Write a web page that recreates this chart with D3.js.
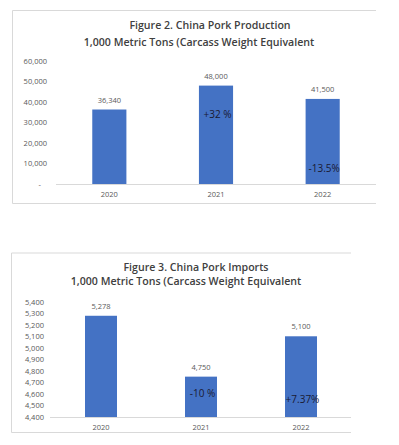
<!DOCTYPE html>
<html>
<head>
<meta charset="utf-8">
<script src="https://cdn.jsdelivr.net/npm/d3@7"></script>
<style>
  body { margin: 0; background: #fff; }
  text { font-family: "Open Sans", "Noto Sans", sans-serif; }
  .tick text { fill: #595959; font-size: 7.5px; }
  .title { font-weight: 600; fill: #404040; font-size: 10.6px; }
  .val { fill: #595959; font-size: 7.5px; }
  .pct { fill: #1a1a33; font-size: 10px; }
</style>
</head>
<body>
<svg id="chart" width="399" height="445"></svg>
<script>
// figure 2 - production
var years = ["2020", "2021", "2022"];
var prodValues = [36340, 48000, 41500];
var prodPct = ["", "+32 %", "-13.5%"];
var prodPctLevel = [null, 33300, 7200];
var prodTicks = [0, 10000, 20000, 30000, 40000, 50000, 60000];

// figure 3 - imports
var impValues = [5278, 4750, 5100];
var impPct = ["", "-10 %", "+7.37%"];
var impPctLevel = [null, 4596, 4547];
var impTicks = [4400, 4500, 4600, 4700, 4800, 4900, 5000, 5100, 5200, 5300, 5400];

var svg = d3.select("#chart");
var fmt = d3.format(",");

function drawChart(opt) {
  var g = svg.append("g");

  // frame (right side runs off the crop)
  g.append("path")
   .attr("d", "M" + opt.frame.r + "," + opt.frame.t + "H" + opt.frame.l + "V" + opt.frame.b + "H" + opt.frame.r)
   .attr("fill", "none")
   .attr("stroke", "#d9d9d9")
   .attr("stroke-width", 1);

  g.append("text").attr("class", "title")
   .attr("x", opt.titleX[0]).attr("y", opt.titleY[0])
   .attr("text-anchor", "middle").attr("dominant-baseline", "middle")
   .text(opt.title[0]);
  g.append("text").attr("class", "title")
   .attr("x", opt.titleX[1]).attr("y", opt.titleY[1])
   .attr("text-anchor", "middle").attr("dominant-baseline", "middle")
   .text(opt.title[1]);

  var x = d3.scaleBand().domain(years).range(opt.xRange).paddingInner(0.68).paddingOuter(0.34);
  var y = d3.scaleLinear().domain(opt.yDomain).range(opt.yRange);

  // y axis labels only
  var ya = g.append("g")
   .attr("transform", "translate(" + opt.yLabelX + ",0)")
   .call(d3.axisLeft(y).tickValues(opt.ticks).tickSize(0).tickPadding(0)
     .tickFormat(function(d) { return d === 0 ? "-" : fmt(d); }));
  ya.select(".domain").remove();
  if (opt.yDomain[0] === 0) ya.selectAll(".tick text").filter(function(d) { return d === 0; }).attr("dx", "-6");

  // x axis
  g.append("line")
   .attr("x1", opt.axisX[0]).attr("x2", opt.axisX[1])
   .attr("y1", y(opt.yDomain[0]) + 0.5).attr("y2", y(opt.yDomain[0]) + 0.5)
   .attr("stroke", "#d9d9d9");
  g.selectAll(".xl").data(years).enter().append("text")
   .attr("class", "val")
   .attr("x", function(d) { return x(d) + x.bandwidth() / 2; })
   .attr("y", opt.xLabelY)
   .attr("text-anchor", "middle").attr("dominant-baseline", "middle")
   .text(function(d) { return d; });

  g.selectAll(".bar").data(opt.values).enter().append("rect")
   .attr("x", function(d, i) { return x(years[i]); })
   .attr("y", function(d) { return y(d); })
   .attr("width", x.bandwidth())
   .attr("height", function(d) { return y(opt.yDomain[0]) - y(d); })
   .attr("fill", "#4472c4");

  g.selectAll(".vl").data(opt.values).enter().append("text")
   .attr("class", "val")
   .attr("x", function(d, i) { return x(years[i]) + x.bandwidth() / 2; })
   .attr("y", function(d) { return y(d) - 9; })
   .attr("text-anchor", "middle").attr("dominant-baseline", "middle")
   .text(function(d) { return fmt(d); });

  g.selectAll(".pl").data(opt.pct).enter().append("text")
   .attr("class", "pct")
   .attr("x", function(d, i) { return x(years[i]) + x.bandwidth() / 2 + 1.5; })
   .attr("y", function(d, i) { return opt.pctLevel[i] == null ? 0 : y(opt.pctLevel[i]); })
   .attr("text-anchor", "middle").attr("dominant-baseline", "middle")
   .text(function(d) { return d; });
}

drawChart({
  frame: {l: 12.5, t: 10.5, r: 376, b: 203.5},
  title: ["Figure 2. China Pork Production", "1,000 Metric Tons (Carcass Weight Equivalent"],
  titleX: [210, 199], titleY: [26.5, 43],
  xRange: [56, 376], axisX: [56, 376],
  yDomain: [0, 60000], yRange: [184, 61],
  ticks: prodTicks, yLabelX: 47,
  xLabelY: 195,
  values: prodValues, pct: prodPct, pctLevel: prodPctLevel
});

drawChart({
  frame: {l: 11.5, t: 253, r: 351, b: 432.5},
  title: ["Figure 3. China Pork Imports", "1,000 Metric Tons (Carcass Weight Equivalent"],
  titleX: [196, 186], titleY: [268.3, 282.3],
  xRange: [51, 351], axisX: [50, 351],
  yDomain: [4400, 5400], yRange: [417, 301.7],
  ticks: impTicks, yLabelX: 44,
  xLabelY: 427.5,
  values: impValues, pct: impPct, pctLevel: impPctLevel
});
</script>
</body>
</html>
